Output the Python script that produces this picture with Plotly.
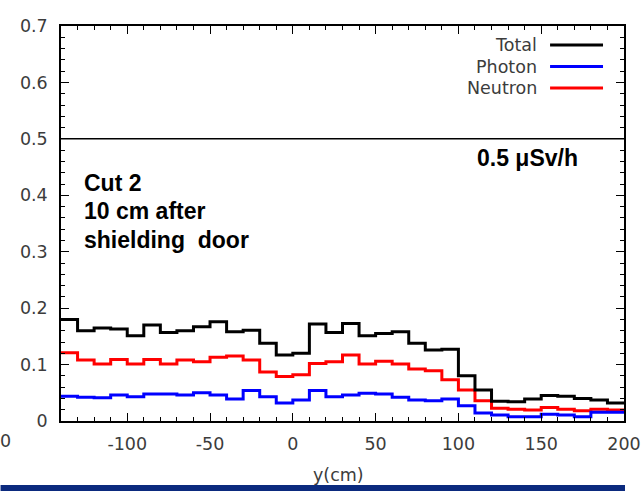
import plotly.graph_objects as go

# ---- data ----
bin_edges = list(range(-140, 201, 10))  # y(cm) bin edges
total = [0.180, 0.160, 0.165, 0.163, 0.151, 0.170, 0.157, 0.160, 0.167, 0.176,
         0.158, 0.161, 0.138, 0.117, 0.120, 0.172, 0.157, 0.173, 0.151, 0.155,
         0.158, 0.138, 0.126, 0.127, 0.080, 0.055, 0.035, 0.034, 0.039, 0.045,
         0.044, 0.040, 0.037, 0.032]
neutron = [0.121, 0.108, 0.101, 0.109, 0.101, 0.109, 0.101, 0.108, 0.105, 0.113,
           0.115, 0.108, 0.087, 0.079, 0.082, 0.102, 0.105, 0.117, 0.101, 0.106,
           0.101, 0.092, 0.089, 0.073, 0.055, 0.036, 0.0225, 0.021, 0.0195, 0.024,
           0.021, 0.018, 0.021, 0.0195]
photon = [0.044, 0.042, 0.041, 0.046, 0.043, 0.048, 0.048, 0.046, 0.050, 0.046,
          0.039, 0.054, 0.043, 0.032, 0.037, 0.054, 0.043, 0.046, 0.049, 0.048,
          0.042, 0.037, 0.036, 0.039, 0.027, 0.014, 0.0106, 0.0077, 0.0077, 0.012,
          0.0106, 0.0077, 0.0154, 0.0154]
series_names = ["Total", "Photon", "Neutron"]
series_colors = ["#000000", "#0000ff", "#ff0000"]
limit_value = 0.5
limit_label = "0.5 μSv/h"
note_lines = ["Cut 2", "10 cm after", "shielding  door"]
x_ticks = [-100, -50, 0, 50, 100, 150, 200]
x_tick_labels = ["-100", "-50", "0", "50", "100", "150", "200"]

FONT = "DejaVu Sans"
GREY = "#3c3c3c"
FS = 17.5

W, H = 641, 491
L, R, T, B = 60.5, 17, 26, 70
PW, PH = W - L - R, H - T - B


def px(xp):
    return (xp - L) / PW


def py(yp):
    return (H - B - yp) / PH


fig = go.Figure()
for name, vals, col in [("Neutron", neutron, "#ff0000"), ("Photon", photon, "#0000ff"), ("Total", total, "#000000")]:
    fig.add_trace(go.Scatter(
        x=bin_edges, y=vals + [vals[-1]], mode="lines", name=name,
        line=dict(color=col, width=3, shape="hv"), showlegend=False))

# 0.5 limit line
fig.add_shape(type="line", xref="paper", x0=0, x1=1, yref="y", y0=limit_value, y1=limit_value,
              line=dict(color="black", width=1.5))

# manual legend (text left of line sample)
leg_y_px = [45, 66.5, 88]
for name, col, ypx in zip(series_names, series_colors, leg_y_px):
    fig.add_annotation(xref="paper", yref="paper", x=px(539), y=py(ypx), text=name,
                       showarrow=False, xanchor="right", yanchor="middle",
                       font=dict(family=FONT, size=FS, color=GREY))
    fig.add_shape(type="line", xref="paper", yref="paper",
                  x0=px(550), x1=px(603), y0=py(ypx), y1=py(ypx),
                  line=dict(color=col, width=3))

fig.add_annotation(xref="paper", yref="paper", x=px(580), y=py(158),
                   text="<b>" + limit_label + "</b>", showarrow=False, xanchor="right", yanchor="middle",
                   font=dict(family="Liberation Sans", size=23, color="black"))
for i, line in enumerate(note_lines):
    fig.add_annotation(xref="paper", yref="paper", x=px(82), y=py(183 + 28.5 * i),
                       text="<b>" + line + "</b>", showarrow=False,
                       xanchor="left", yanchor="middle", align="left",
                       font=dict(family="Liberation Sans", size=23, color="black"))
# clipped fragment of neighbouring label
fig.add_annotation(xref="paper", yref="paper", x=px(5), y=py(441),
                   text="0", showarrow=False, xanchor="center", yanchor="middle",
                   font=dict(family=FONT, size=FS, color=GREY))
# x axis title
fig.add_annotation(xref="paper", yref="paper", x=px(338), y=py(475),
                   text="y(cm)", showarrow=False, xanchor="center", yanchor="middle",
                   font=dict(family=FONT, size=FS, color=GREY))
# bottom navy band
fig.add_shape(type="rect", xref="paper", yref="paper", x0=px(0), x1=px(625),
              y0=py(491), y1=py(485), line=dict(width=0), fillcolor="#0b2a7e")

axis_common = dict(showgrid=False, zeroline=False, showline=True, linecolor="black", linewidth=1.5,
                   mirror="allticks", ticks="inside", ticklen=8, tickwidth=1.2, tickcolor="black",
                   tickfont=dict(family=FONT, size=FS, color=GREY))
fig.update_xaxes(range=[-140, 200], tickvals=x_ticks, ticktext=x_tick_labels, ticklabelstandoff=6,
                 minor=dict(ticks="inside", dtick=10, tick0=0, ticklen=4, tickcolor="black", tickwidth=1),
                 **axis_common)
fig.update_yaxes(range=[0, 0.7], dtick=0.1, ticklabelstandoff=8,
                 minor=dict(ticks="inside", dtick=0.02, tick0=0, ticklen=4, tickcolor="black", tickwidth=1),
                 **axis_common)

fig.update_layout(width=W, height=H, margin=dict(l=L, r=R, t=T, b=B, autoexpand=False),
                  plot_bgcolor="white", paper_bgcolor="white", showlegend=False)
fig.write_html("out.html", config={"displayModeBar": False},
               post_script="document.body.style.margin='0px';document.body.style.overflow='hidden';")
